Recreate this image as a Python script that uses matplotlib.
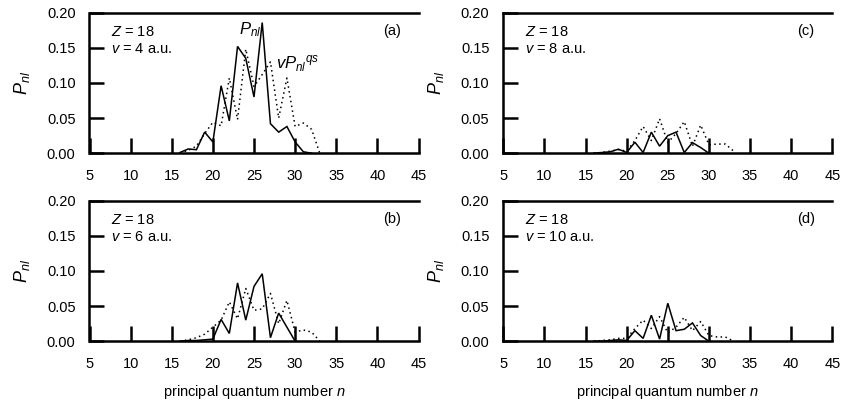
import matplotlib
matplotlib.use("Agg")
import matplotlib.pyplot as plt
import numpy as np

plt.rcParams['font.family'] = ['Liberation Sans', 'DejaVu Sans']
plt.rcParams['mathtext.fontset'] = 'custom'
plt.rcParams['mathtext.it'] = 'Liberation Sans:italic'
plt.rcParams['mathtext.rm'] = 'Liberation Sans'

# principal quantum numbers
n_a_exact = [16, 17, 18, 19, 20, 21, 22, 23, 24, 25, 26, 27, 28, 29, 30, 31, 32]
n_qs = [16, 17, 18, 19, 20, 21, 22, 23, 24, 25, 26, 27, 28, 29, 30, 31, 32, 33]
n_exact = [16, 17, 18, 19, 20, 21, 22, 23, 24, 25, 26, 27, 28, 29, 30]

# v = 4 a.u.
p_a = [0.001, 0.006, 0.005, 0.030, 0.016, 0.096, 0.046, 0.152, 0.135, 0.080,
       0.186, 0.042, 0.030, 0.038, 0.016, 0.002, 0.0]
qs_a = [0.0, 0.004, 0.010, 0.028, 0.044, 0.039, 0.107, 0.048, 0.148, 0.095,
        0.112, 0.130, 0.050, 0.107, 0.038, 0.043, 0.034, 0.0]

# v = 6 a.u.
p_b = [0.0, 0.001, 0.001, 0.002, 0.003, 0.031, 0.011, 0.083, 0.030, 0.078,
       0.096, 0.005, 0.040, 0.020, 0.0]
qs_b = [0.0, 0.002, 0.005, 0.010, 0.020, 0.030, 0.056, 0.032, 0.075, 0.044,
        0.046, 0.068, 0.025, 0.058, 0.013, 0.016, 0.013, 0.0]

# v = 8 a.u.
p_c = [0.0, 0.001, 0.002, 0.0057, 0.001, 0.0156, 0.001, 0.030, 0.010, 0.025,
       0.030, 0.001, 0.015, 0.008, 0.0]
qs_c = [0.0, 0.001, 0.003, 0.005, 0.003, 0.018, 0.038, 0.018, 0.049, 0.015,
        0.028, 0.045, 0.010, 0.040, 0.012, 0.013, 0.013, 0.003]

# v = 10 a.u.
p_d = [0.0, 0.0, 0.001, 0.002, 0.001, 0.015, 0.004, 0.037, 0.003, 0.054,
       0.015, 0.017, 0.026, 0.008, 0.0]
qs_d = [0.0, 0.001, 0.002, 0.004, 0.004, 0.018, 0.030, 0.018, 0.035, 0.012,
        0.020, 0.034, 0.015, 0.028, 0.008, 0.006, 0.006, 0.0]

xticks = [5, 10, 15, 20, 25, 30, 35, 40, 45]
yticks = [0.00, 0.05, 0.10, 0.15, 0.20]
ytick_labels = ['0.00', '0.05', '0.10', '0.15', '0.20']

panels = [
    ('(a)', 4, n_a_exact, p_a, qs_a),
    ('(b)', 6, n_exact, p_b, qs_b),
    ('(c)', 8, n_exact, p_c, qs_c),
    ('(d)', 10, n_exact, p_d, qs_d),
]

W, H = 845, 405
fig = plt.figure(figsize=(W / 100, H / 100), dpi=100)

lefts = [89.5, 89.5, 503.3, 503.3]
tops = [12.7, 200.7, 12.7, 200.7]
aw, ah = 329.0, 140.5

fs = 10.5
for (tag, v, n_p, p, qs), lx, ty in zip(panels, lefts, tops):
    ax = fig.add_axes([lx / W, 1 - (ty + ah) / H, aw / W, ah / H])
    ax.plot(n_p, p, color='black', lw=1.1, solid_joinstyle='miter')
    ax.plot(n_qs, qs, color='black', lw=1.1, linestyle=(0, (1, 2.2)))
    ax.set_xlim(5, 45)
    ax.set_ylim(0, 0.2)
    ax.set_xticks(xticks)
    ax.set_yticks(yticks)
    ax.set_yticklabels(ytick_labels)
    ax.spines['right'].set_visible(False)
    for s in ('left', 'top', 'bottom'):
        ax.spines[s].set_linewidth(1.8)
    ax.tick_params(axis='both', direction='in', length=11, width=1.8,
                   labelsize=fs)
    ax.tick_params(axis='x', pad=11.5)
    ax.tick_params(axis='y', pad=10)
    ax.set_ylabel(r'$P_{nl}$', fontsize=13)
    ax.yaxis.set_label_coords(-0.175, 0.5)
    ax.text(0.065, 0.865, r'$Z$ = 18', transform=ax.transAxes,
            fontsize=fs, va='center', ha='left')
    ax.text(0.065, 0.74, r'$v$ = %d a.u.' % v, transform=ax.transAxes,
            fontsize=fs, va='center', ha='left')
    ax.text(0.92, 0.87, tag, transform=ax.transAxes,
            fontsize=fs, va='center', ha='center')
    if tag in ('(b)', '(d)'):
        ax.set_xlabel(r'principal quantum number $n$', fontsize=fs)
        ax.xaxis.set_label_coords(0.5, -0.295)
    if tag == '(a)':
        ax.text(23.2, 0.176, r'$P_{nl}$', fontsize=12, va='center', ha='left')
        ax.text(27.7, 0.128, r'$vP_{nl}{}^{qs}$', fontsize=12,
                va='center', ha='left')

fig.savefig('out.png', dpi=100)
